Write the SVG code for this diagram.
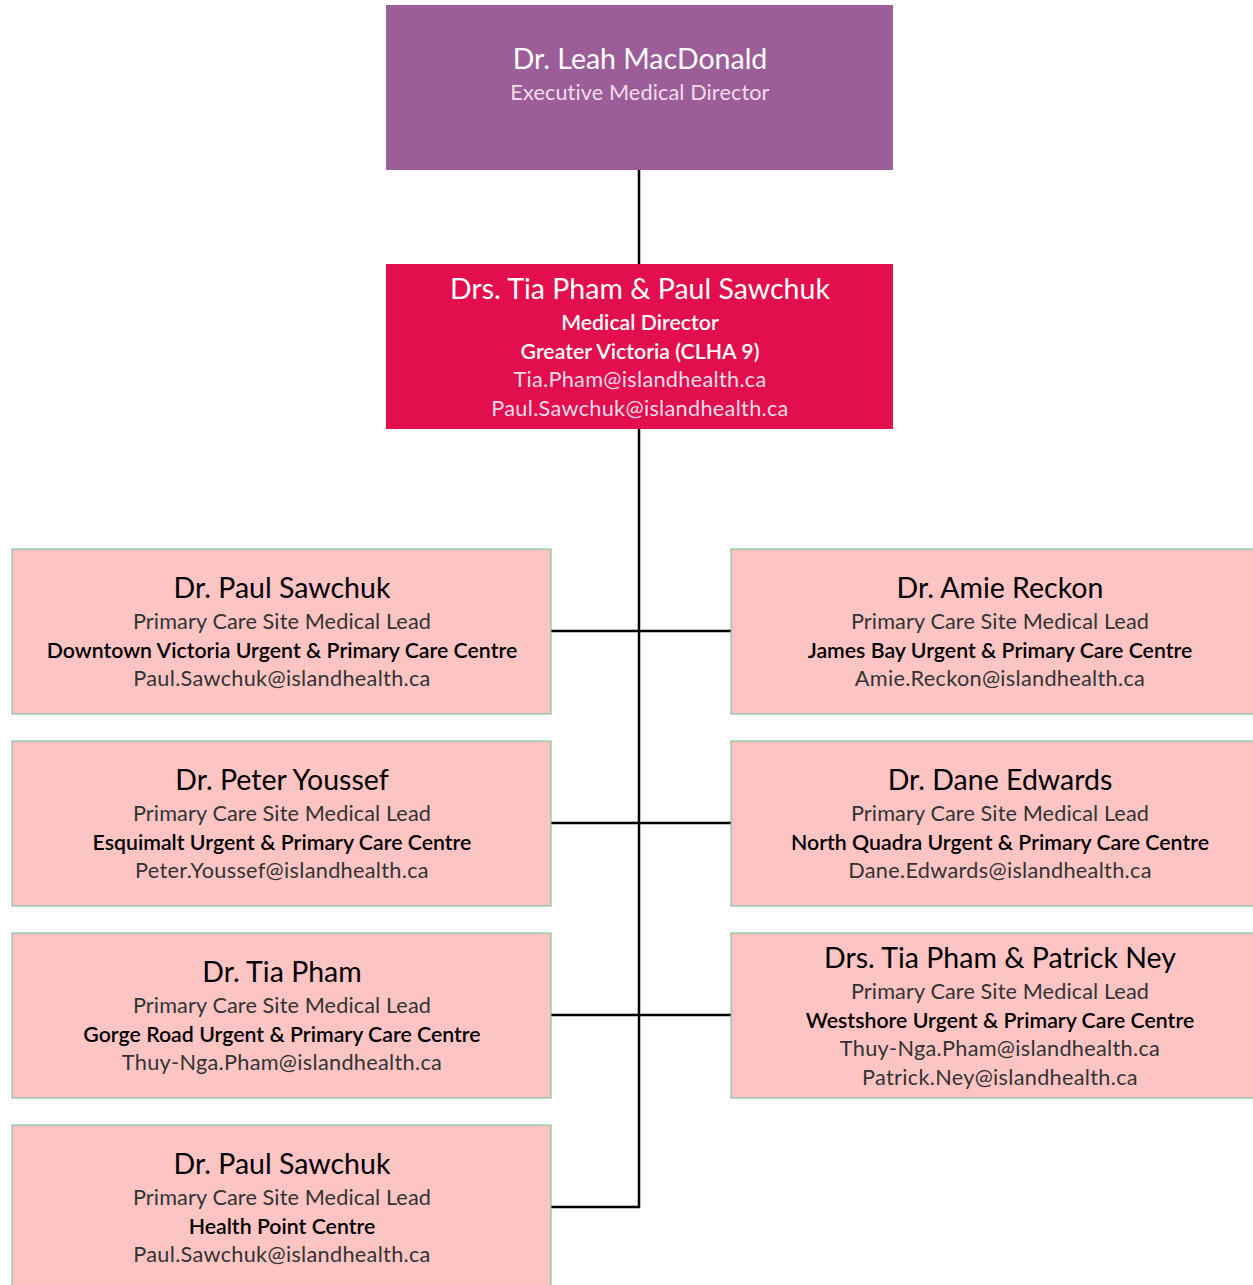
<svg xmlns="http://www.w3.org/2000/svg" width="1253" height="1285" viewBox="0 0 1253 1285">
<style>
text{font-family:Lato,"Open Sans","Liberation Sans",sans-serif;text-anchor:middle}
.pink{fill:#fcc5c4;stroke:#6dbf8f;stroke-width:1}
.nm{font-size:28.5px;fill:#000}
.rl{font-size:21.7px;fill:#333;font-weight:400;letter-spacing:0.1px}
.st{font-size:21.3px;fill:#000;font-weight:600}
.em{font-size:21.7px;fill:#333;font-weight:400;letter-spacing:0.3px}
.w{fill:#fff}
.wl{fill:#f3dcea}
.c{stroke:#000;stroke-width:2.5;fill:none}
</style>
<g id="connectors">
<path class="c" d="M639 170V264M639 429V1207H551M551 631H731M551 823H731M551 1015H731"/>
</g>
<g id="exec">
<rect x="386" y="5" width="507" height="165" fill="#9b5e98"/>
<text x="640" y="69" class="nm w">Dr. Leah MacDonald</text>
<text x="640" y="100" class="rl wl">Executive Medical Director</text>
</g>
<g id="md">
<rect x="386" y="264" width="507" height="165" fill="#e20e4d"/>
<text x="640" y="299" class="nm w">Drs. Tia Pham &amp; Paul Sawchuk</text>
<text x="640" y="330" class="st w">Medical Director</text>
<text x="640" y="359" class="st w">Greater Victoria (CLHA 9)</text>
<text x="640" y="387" class="em wl">Tia.Pham@islandhealth.ca</text>
<text x="640" y="416" class="em wl">Paul.Sawchuk@islandhealth.ca</text>
</g>
<g id="downtown">
<rect class="pink" x="12" y="549" width="539" height="165"/>
<text x="282" y="598" class="nm">Dr. Paul Sawchuk</text>
<text x="282" y="629" class="rl">Primary Care Site Medical Lead</text>
<text x="282" y="658" class="st">Downtown Victoria Urgent &amp; Primary Care Centre</text>
<text x="282" y="686" class="em">Paul.Sawchuk@islandhealth.ca</text>
</g>
<g id="esquimalt">
<rect class="pink" x="12" y="741" width="539" height="165"/>
<text x="282" y="790" class="nm">Dr. Peter Youssef</text>
<text x="282" y="821" class="rl">Primary Care Site Medical Lead</text>
<text x="282" y="850" class="st">Esquimalt Urgent &amp; Primary Care Centre</text>
<text x="282" y="878" class="em">Peter.Youssef@islandhealth.ca</text>
</g>
<g id="gorge">
<rect class="pink" x="12" y="933" width="539" height="165"/>
<text x="282" y="982" class="nm">Dr. Tia Pham</text>
<text x="282" y="1013" class="rl">Primary Care Site Medical Lead</text>
<text x="282" y="1042" class="st">Gorge Road Urgent &amp; Primary Care Centre</text>
<text x="282" y="1070" class="em">Thuy-Nga.Pham@islandhealth.ca</text>
</g>
<g id="healthpoint">
<rect class="pink" x="12" y="1125" width="539" height="170"/>
<text x="282" y="1174" class="nm">Dr. Paul Sawchuk</text>
<text x="282" y="1205" class="rl">Primary Care Site Medical Lead</text>
<text x="282" y="1234" class="st">Health Point Centre</text>
<text x="282" y="1262" class="em">Paul.Sawchuk@islandhealth.ca</text>
</g>
<g id="jamesbay">
<rect class="pink" x="731" y="549" width="530" height="165"/>
<text x="1000" y="598" class="nm">Dr. Amie Reckon</text>
<text x="1000" y="629" class="rl">Primary Care Site Medical Lead</text>
<text x="1000" y="658" class="st">James Bay Urgent &amp; Primary Care Centre</text>
<text x="1000" y="686" class="em">Amie.Reckon@islandhealth.ca</text>
</g>
<g id="northquadra">
<rect class="pink" x="731" y="741" width="530" height="165"/>
<text x="1000" y="790" class="nm">Dr. Dane Edwards</text>
<text x="1000" y="821" class="rl">Primary Care Site Medical Lead</text>
<text x="1000" y="850" class="st">North Quadra Urgent &amp; Primary Care Centre</text>
<text x="1000" y="878" class="em">Dane.Edwards@islandhealth.ca</text>
</g>
<g id="westshore">
<rect class="pink" x="731" y="933" width="530" height="165"/>
<text x="1000" y="968" class="nm">Drs. Tia Pham &amp; Patrick Ney</text>
<text x="1000" y="999" class="rl">Primary Care Site Medical Lead</text>
<text x="1000" y="1028" class="st">Westshore Urgent &amp; Primary Care Centre</text>
<text x="1000" y="1056" class="em">Thuy-Nga.Pham@islandhealth.ca</text>
<text x="1000" y="1085" class="em">Patrick.Ney@islandhealth.ca</text>
</g>
</svg>
